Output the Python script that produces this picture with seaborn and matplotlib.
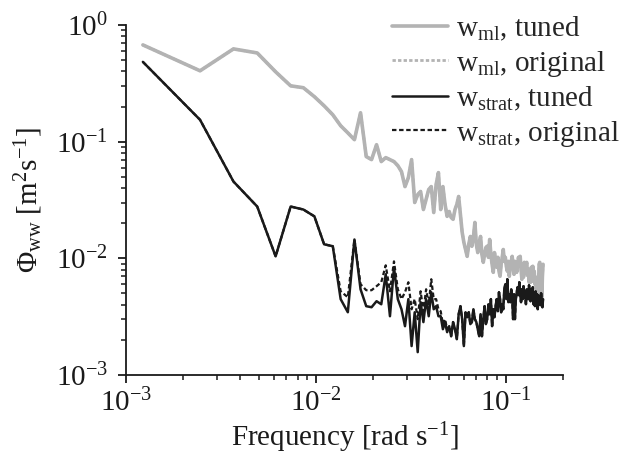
import numpy as np
import pandas as pd
import matplotlib
matplotlib.use("Agg")
import matplotlib.pyplot as plt
import seaborn as sns
from matplotlib.lines import Line2D

# Spectral estimate grid: harmonics of the fundamental frequency [rad s^-1]
df_omega = 1.227e-3
freq = df_omega * np.arange(1, 129)

# Mixed-layer vertical velocity spectrum, tuned model
wml_tuned = [
    0.675, 0.405, 0.624, 0.576, 0.397, 0.301, 0.290, 0.243, 0.203, 0.170,
    0.137, 0.119, 0.104, 0.177, 0.0745, 0.0702, 0.0942, 0.0675, 0.073, 0.0702,
    0.0675, 0.0623, 0.0554, 0.0412, 0.0492, 0.0702, 0.0301, 0.0352, 0.0374, 0.0262,
    0.0319, 0.0389, 0.0412, 0.0247, 0.0429, 0.0543, 0.0262, 0.0412, 0.029, 0.0229,
    0.0252, 0.0224, 0.0216, 0.0262, 0.029, 0.0339, 0.0238, 0.0167, 0.0137, 0.0119,
    0.0104, 0.0132, 0.0154, 0.0127, 0.0151, 0.0203, 0.0132, 0.0112, 0.0137, 0.0154,
    0.0108, 0.00924, 0.0108, 0.0124, 0.0127, 0.0102, 0.0145, 0.0108, 0.00889, 0.00759,
    0.0112, 0.00942, 0.00838, 0.0102, 0.00775, 0.00702, 0.00889, 0.0102, 0.0119, 0.00942,
    0.0102, 0.00855, 0.00775, 0.00942, 0.00702, 0.00838, 0.00942, 0.0104, 0.00871, 0.0073,
    0.00942, 0.00838, 0.00759, 0.00889, 0.0102, 0.00942, 0.0104, 0.00806, 0.00662, 0.00838,
    0.00689, 0.00924, 0.00775, 0.00871, 0.00924, 0.00716, 0.00806, 0.00624, 0.0073, 0.00624,
    0.00838, 0.0073, 0.00855, 0.00636, 0.00775, 0.006, 0.00689, 0.00543, 0.00636, 0.00447,
    0.00565, 0.00889, 0.00924, 0.00502, 0.00806, 0.00464, 0.00702, 0.00889,
]

# Mixed-layer spectrum, original model (indistinguishable from the tuned run)
wml_original = list(wml_tuned)

# Stratified-layer vertical velocity spectrum, tuned model
wstrat_tuned = [
    0.483, 0.154, 0.0455, 0.0278, 0.0104, 0.0278, 0.0262, 0.0229, 0.0132, 0.0127,
    0.00447, 0.00345, 0.0145, 0.00543, 0.00389, 0.00381, 0.00429, 0.00404, 0.0073, 0.00319,
    0.00838, 0.00447, 0.00366, 0.00262, 0.00447, 0.00177, 0.00345, 0.00157, 0.00421, 0.00284,
    0.00447, 0.00319, 0.00512, 0.00366, 0.00389, 0.00319, 0.00319, 0.00247, 0.00284, 0.00233,
    0.00262, 0.00215, 0.00284, 0.00247, 0.00203, 0.00332, 0.00389, 0.00301, 0.00177, 0.00345,
    0.00313, 0.00345, 0.00273, 0.00284, 0.00366, 0.00301, 0.00284, 0.00247, 0.00215, 0.00332,
    0.00215, 0.00301, 0.00389, 0.00273, 0.00301, 0.00404, 0.00332, 0.00447, 0.00262, 0.00366,
    0.00313, 0.00389, 0.00447, 0.00352, 0.00512, 0.00447, 0.00345, 0.00404, 0.00366, 0.00543,
    0.006, 0.00447, 0.00662, 0.00421, 0.00492, 0.00421, 0.00543, 0.00464, 0.00301, 0.00492,
    0.00301, 0.00447, 0.00512, 0.00565, 0.00483, 0.00624, 0.00492, 0.00421, 0.00543, 0.00447,
    0.00577, 0.00464, 0.00522, 0.00404, 0.00543, 0.00483, 0.00447, 0.00588, 0.00464, 0.00429,
    0.00543, 0.00483, 0.00565, 0.00404, 0.00464, 0.00389, 0.00522, 0.00447, 0.00492, 0.00366,
    0.00483, 0.00421, 0.00464, 0.00397, 0.00502, 0.00429, 0.00381, 0.00447,
]

# Stratified-layer spectrum, original model: differs at low-to-mid frequencies
wstrat_original_head = [
    0.483, 0.154, 0.0455, 0.0278, 0.0104, 0.0278, 0.0262, 0.0229, 0.0132, 0.0127,
    0.00522, 0.00464, 0.0145, 0.006, 0.00533, 0.00533, 0.00577, 0.00624, 0.00871, 0.00522,
    0.00942, 0.00543, 0.00447, 0.00512, 0.00624, 0.00366, 0.00447, 0.00301, 0.00522, 0.00352,
    0.00543, 0.00404, 0.00662, 0.00447, 0.00447, 0.00366, 0.00352, 0.00273, 0.00301, 0.00247,
]
wstrat_original = wstrat_original_head + wstrat_tuned[len(wstrat_original_head):]

labels = [
    r"$\mathregular{w_{ml}}$, tuned",
    r"$\mathregular{w_{ml}}$, original",
    r"$\mathregular{w_{strat}}$, tuned",
    r"$\mathregular{w_{strat}}$, original",
]
series = [wml_tuned, wml_original, wstrat_tuned, wstrat_original]
colors = ["#b3b3b3", "#b3b3b3", "#1a1a1a", "#1a1a1a"]
styles = ["-", (0, (1.2, 0.8)), "-", (0, (2.0, 1.2))]
widths = [2.6, 2.0, 1.8, 1.6]

sns.set_theme(style="ticks")
plt.rcParams["font.family"] = ["Liberation Serif", "DejaVu Serif"]
plt.rcParams["mathtext.fontset"] = "custom"
plt.rcParams["mathtext.rm"] = "Liberation Serif"
plt.rcParams["mathtext.it"] = "Liberation Serif:italic"
plt.rcParams["mathtext.bf"] = "Liberation Serif:bold"
plt.rcParams["axes.unicode_minus"] = True

fig = plt.figure(figsize=(6.28, 4.54), dpi=100)
ax = fig.add_axes([126 / 628, 1 - 375 / 454, (563 - 126) / 628, (375 - 25) / 454])

for vals, col, ls, lw, lab in zip(series, colors, styles, widths, labels):
    data = pd.DataFrame({"freq": freq, "phi": vals})
    sns.lineplot(data=data, x="freq", y="phi", ax=ax, color=col,
                 linestyle=ls, linewidth=lw, label=lab, legend=False)

ax.set_xscale("log")
ax.set_yscale("log")
ax.set_xlim(1e-3, 0.2)
ax.set_ylim(1e-3, 1e0)
ax.set_xticks([1e-3, 1e-2, 1e-1])
ax.set_yticks([1e-3, 1e-2, 1e-1, 1e0])

for side in ("top", "right"):
    ax.spines[side].set_visible(False)
for side in ("left", "bottom"):
    ax.spines[side].set_linewidth(1.3)
    ax.spines[side].set_color("#1a1a1a")

ax.tick_params(which="major", direction="out", length=6, width=1.3,
               labelsize=21, colors="#1a1a1a")
ax.tick_params(axis="y", which="major", pad=7)
ax.tick_params(axis="x", which="major", pad=4)
ax.tick_params(which="minor", direction="out", length=3.5, width=1.1,
               colors="#1a1a1a")

ax.set_xlabel(r"Frequency [rad s$^{-1}$]", fontsize=21, color="#1a1a1a", labelpad=2)
ax.set_ylabel(r"$\Phi_{\mathrm{ww}}$ [m$^2$s$^{-1}$]", fontsize=21,
              color="#1a1a1a", labelpad=8)

handles = [Line2D([], [], color=c, linestyle=s, linewidth=w)
           for c, s, w in zip(colors, styles, widths)]
fig.legend(handles, labels, loc="upper right",
           bbox_to_anchor=(1.0 + 6 / 628, 1.0), bbox_transform=fig.transFigure,
           frameon=False, fontsize=21, handlelength=1.9, handletextpad=0.28,
           labelspacing=0.2, borderaxespad=0.1)

fig.savefig("out.png", dpi=100)
